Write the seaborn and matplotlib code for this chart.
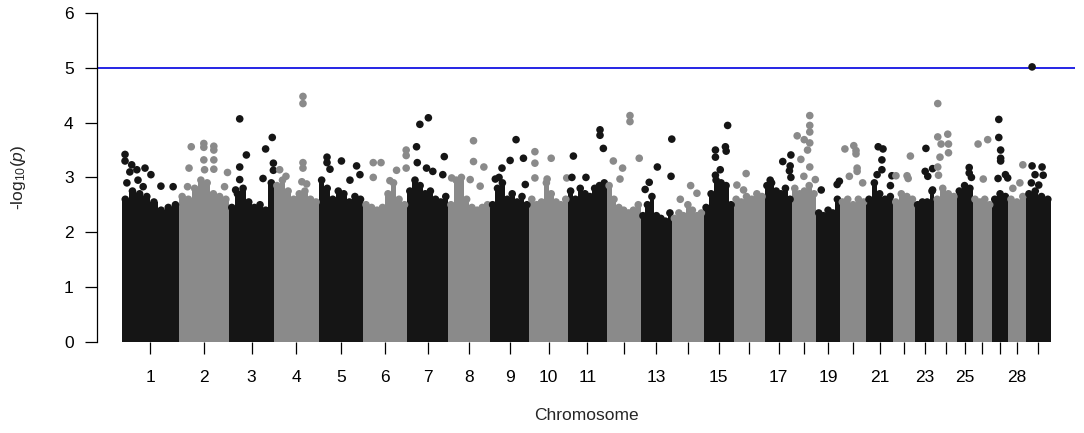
"""Manhattan plot of -log10(p) across 29 chromosomes with a genome-wide threshold line."""

import matplotlib

matplotlib.use("Agg")

import matplotlib.pyplot as plt
import numpy as np
import pandas as pd
import seaborn as sns

chromosomes = list(range(1, 30))
chrom_length_mb = [155, 135, 122, 121, 120, 119, 111, 113, 106, 105, 104, 92, 85, 85, 81,
                   84, 75, 65, 63, 72, 72, 60, 52, 60, 43, 53, 43, 48, 68]
labelled_chroms = [1, 2, 3, 4, 5, 6, 7, 8, 9, 10, 11, 13, 15, 17, 19, 21, 23, 25, 28]

# top of the dense block of SNPs, read left to right along each chromosome
mass_top = [
    [2.6, 2.75, 2.7, 2.65, 2.55, 2.4, 2.45, 2.5],
    [2.65, 2.6, 2.8, 2.95, 2.9, 2.7, 2.65, 2.6],
    [2.45, 2.7, 2.8, 2.55, 2.45, 2.5, 2.4, 2.9],
    [2.85, 2.95, 2.75, 2.6, 2.7, 2.75, 2.6, 2.55],
    [2.95, 2.8, 2.6, 2.75, 2.7, 2.55, 2.65, 2.6],
    [2.5, 2.45, 2.4, 2.45, 2.7, 2.9, 2.6, 2.5],
    [2.75, 2.95, 2.85, 2.7, 2.75, 2.6, 2.55, 2.65],
    [2.5, 2.95, 3.0, 2.6, 2.45, 2.4, 2.45, 2.5],
    [2.5, 2.8, 2.9, 2.6, 2.7, 2.55, 2.65, 2.5],
    [2.6, 2.5, 2.55, 2.9, 2.7, 2.55, 2.5, 2.6],
    [2.75, 2.6, 2.8, 2.7, 2.65, 2.8, 2.85, 2.9],
    [2.85, 2.6, 2.45, 2.4, 2.35, 2.4, 2.5],
    [2.3, 2.5, 2.65, 2.3, 2.25, 2.2, 2.35],
    [2.25, 2.35, 2.3, 2.5, 2.4, 2.3, 2.35],
    [2.45, 2.7, 2.95, 2.9, 2.85, 2.5],
    [2.6, 2.55, 2.65, 2.6, 2.7, 2.65],
    [2.85, 2.9, 2.75, 2.7, 2.8, 2.6],
    [2.8, 2.7, 2.75, 2.85, 2.7],
    [2.35, 2.3, 2.4, 2.35, 2.6],
    [2.55, 2.6, 2.5, 2.6, 2.55],
    [2.6, 2.9, 2.7, 2.6, 2.65],
    [2.55, 2.7, 2.65, 2.6],
    [2.5, 2.55, 2.55, 2.75],
    [2.6, 2.8, 2.7, 2.65],
    [2.75, 2.85, 2.8],
    [2.6, 2.55, 2.6, 2.5],
    [2.6, 2.7, 2.65],
    [2.6, 2.55, 2.65],
    [2.7, 2.75, 2.65, 2.6],
]

# isolated SNPs standing above the block: chromosome, position (Mb), -log10(p)
peak_chrom = (
    [1] * 12 + [2] * 13 + [3] * 10 + [4] * 8 + [5] * 7 + [6] * 8 + [7] * 8 + [8] * 6
    + [9] * 7 + [10] * 6 + [11] * 6 + [12] * 6 + [13] * 5 + [14] * 3 + [15] * 7 + [16] * 3
    + [17] * 6 + [18] * 11 + [19] * 3 + [20] * 8 + [21] * 7 + [22] * 4 + [23] * 5 + [24] * 9
    + [25] * 3 + [26] * 3 + [27] * 8 + [28] * 3 + [29] * 7
)
peak_pos_mb = [
    9, 9, 27, 41, 63, 79, 22, 58, 106, 139, 44, 14,
    33, 67, 67, 94, 94, 67, 94, 27, 69, 94, 131, 123, 23,
    29, 117, 99, 47, 29, 92, 120, 120, 29, 18,
    78, 78, 78, 78, 15, 32, 75, 88,
    22, 22, 30, 61, 102, 84, 111,
    27, 48, 90, 72, 27, 116, 116, 116,
    57, 34, 25, 100, 27, 52, 69, 96,
    68, 68, 96, 9, 59, 86,
    70, 54, 90, 32, 14, 24, 95,
    15, 15, 59, 15, 48, 101,
    14, 86, 86, 95, 48, 10,
    63, 63, 18, 43, 88, 36,
    84, 45, 23, 82, 12,
    50, 67, 22,
    65, 32, 32, 59, 61, 45, 32,
    34, 9, 27,
    71, 49, 69, 67, 71, 15,
    47, 47, 47, 13, 32, 47, 41, 23, 47, 31, 62,
    13, 56, 62,
    14, 38, 44, 44, 47, 47, 26, 62,
    32, 45, 42, 42, 29, 69, 65,
    47, 8, 38, 41,
    29, 47, 27, 34, 47,
    9, 36, 9, 18, 38, 15, 38, 9, 11,
    34, 34, 40,
    15, 41, 29,
    18, 18, 23, 23, 23, 16, 36, 42,
    40, 32, 13,
    17, 17, 44, 25, 47, 15, 35,
]
peak_logp = [
    3.42, 3.30, 3.23, 3.14, 3.17, 3.05, 3.10, 2.83, 2.84, 2.83, 2.95, 2.90,
    3.56, 3.62, 3.55, 3.57, 3.50, 3.32, 3.32, 3.17, 3.14, 3.15, 3.09, 2.83, 2.83,
    4.07, 3.73, 3.52, 3.41, 3.19, 2.98, 3.26, 3.13, 2.96, 2.77,
    4.48, 4.35, 3.27, 3.17, 3.14, 3.02, 2.92, 2.88,
    3.37, 3.27, 3.15, 3.30, 3.21, 2.95, 3.05,
    3.27, 3.27, 3.13, 2.94, 3.00, 3.50, 3.40, 3.17,
    4.09, 3.97, 3.56, 3.38, 3.27, 3.17, 3.11, 3.05,
    3.67, 3.29, 3.19, 2.99, 2.96, 2.84,
    3.69, 3.31, 3.35, 3.17, 2.97, 3.00, 2.87,
    3.47, 3.26, 3.35, 2.99, 2.97, 2.99,
    3.39, 3.87, 3.77, 3.53, 3.00, 3.00,
    4.13, 4.02, 3.30, 3.17, 3.35, 2.97,
    3.70, 3.19, 2.91, 3.02, 2.78,
    2.85, 2.71, 2.60,
    3.95, 3.50, 3.37, 3.56, 3.48, 3.14, 3.04,
    3.07, 2.86, 2.77,
    3.41, 3.29, 3.21, 3.12, 3.00, 2.95,
    4.13, 3.95, 3.83, 3.76, 3.69, 3.63, 3.50, 3.33, 3.19, 3.02, 2.96,
    2.77, 2.87, 2.93,
    3.52, 3.58, 3.49, 3.43, 3.17, 3.11, 3.02, 2.90,
    3.56, 3.52, 3.32, 3.14, 3.05, 3.03, 2.85,
    3.39, 3.03, 3.03, 2.98,
    3.53, 3.16, 3.11, 3.02, 2.77,
    4.35, 3.79, 3.74, 3.61, 3.61, 3.37, 3.45, 3.19, 3.04,
    3.18, 3.08, 3.00,
    3.61, 3.69, 2.97,
    4.06, 3.73, 3.50, 3.35, 3.30, 2.98, 3.05, 2.99,
    3.23, 2.90, 2.80,
    5.02, 3.21, 3.19, 3.05, 3.04, 2.90, 2.86,
]

threshold = 5

sns.set_style("ticks")
plt.rcParams["font.family"] = ["Liberation Sans", "DejaVu Sans"]
plt.rcParams["mathtext.fontset"] = "custom"
plt.rcParams["mathtext.rm"] = "Liberation Sans"
plt.rcParams["mathtext.it"] = "Liberation Sans:italic"

colours = {"odd": "#151515", "even": "#8a8a8a"}
offsets = np.concatenate([[0], np.cumsum(chrom_length_mb)[:-1]])
centres = offsets + np.array(chrom_length_mb) / 2
total = float(np.sum(chrom_length_mb))

fig = plt.figure(figsize=(10.84, 4.33), dpi=100)
ax = fig.add_axes([96.7 / 1084, (433 - 341.5) / 433, (1075 - 96.7) / 1084, (341.5 - 13.3) / 433])

dot_rows = []
for i, chrom in enumerate(chromosomes):
    group = "odd" if chrom % 2 else "even"
    heights = np.array(mass_top[i])
    edges = np.linspace(offsets[i], offsets[i] + chrom_length_mb[i], len(heights) + 1)
    ax.fill_between(edges, np.append(heights, heights[-1]), step="post",
                    color=colours[group], linewidth=0, zorder=1)
    mids = (edges[:-1] + edges[1:]) / 2
    for x, h in zip(mids, heights):
        dot_rows.append({"x": x, "logp": h, "group": group})

peaks = pd.DataFrame({"chrom": peak_chrom, "pos": peak_pos_mb, "logp": peak_logp})
peaks["x"] = offsets[peaks["chrom"].to_numpy() - 1] + peaks["pos"]
peaks["group"] = np.where(peaks["chrom"] % 2 == 1, "odd", "even")
dots = pd.concat([pd.DataFrame(dot_rows), peaks[["x", "logp", "group"]]], ignore_index=True)

ax.axhline(threshold, color="#0000e0", linewidth=1.2, zorder=2)
sns.scatterplot(data=dots, x="x", y="logp", hue="group", palette=colours, s=30,
                linewidth=0, legend=False, ax=ax, zorder=3)

ax.set_xlim(-67.6, total + 65)
ax.set_ylim(0, 6)
ax.set_yticks(range(0, 7))
ax.set_xticks(centres)
ax.set_xticklabels([str(c) if c in labelled_chroms else "" for c in chromosomes])
ax.tick_params(axis="both", length=8.6, width=0.9, labelsize=12.5, color="black", labelcolor="black")
ax.tick_params(axis="x", pad=12)
ax.tick_params(axis="y", pad=8)
for side in ("top", "right", "bottom"):
    ax.spines[side].set_visible(False)
ax.spines["left"].set_linewidth(0.9)
ax.spines["left"].set_color("black")
ax.spines["left"].set_bounds(0, 6)
ax.set_xlabel("")
ax.set_ylabel("")

fig.text(586 / 1084, 1 - 415 / 433, "Chromosome", ha="center", va="center", fontsize=12.5)
fig.text(18 / 1084, 1 - 177 / 433, r"-log$_{10}$($p$)", ha="center", va="center",
         rotation=90, fontsize=12.5)

fig.savefig("out.png", dpi=100)
plt.close(fig)
